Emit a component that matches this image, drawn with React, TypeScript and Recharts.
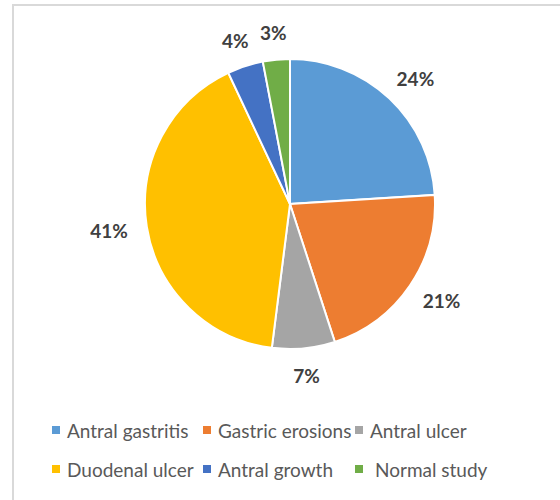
import React from 'react';
import { PieChart, Pie, Cell } from 'recharts';

const categories = ['Antral gastritis', 'Gastric erosions', 'Antral ulcer', 'Duodenal ulcer', 'Antral growth', 'Normal study'];
const values = [24, 21, 7, 41, 4, 3];
const colors = ['#5B9BD5', '#ED7D31', '#A5A5A5', '#FFC000', '#4472C4', '#70AD47'];

const data = categories.map((name, i) => ({ name, value: values[i] }));
const total = values.reduce((a, b) => a + b, 0);

const RAD = Math.PI / 180;
const FONT = "Lato, 'Open Sans', sans-serif";

const renderLabel = (props: any) => {
  const { cx, cy, midAngle, outerRadius, value } = props;
  const text = `${Math.round((value / total) * 100)}%`;
  const halfW = text.length * 6.4;
  const halfH = 8;
  const c = Math.cos(-midAngle * RAD);
  const s = Math.sin(-midAngle * RAD);
  const r = outerRadius + 19;
  const x = cx + r * c + c * halfW;
  const y = cy + r * s + s * halfH;
  return (
    <text x={x} y={y} fill="#404040" fontFamily={FONT} fontWeight={700} fontSize={19} textAnchor="middle" dominantBaseline="central">
      {text}
    </text>
  );
};

const LegendBlock = () => (
  <div style={{ position: 'absolute', left: 52, top: 419, display: 'grid', gridTemplateColumns: '151px 152px 160px', rowGap: 17, fontFamily: FONT, fontSize: 19, color: '#595959' }}>
    {data.map((d, i) => (
      <div key={d.name} style={{ display: 'flex', alignItems: 'center', whiteSpace: 'nowrap', height: 22 }}>
        <span style={{ display: 'inline-block', width: 8, height: 8, background: colors[i], marginRight: i === 5 ? 12 : 7 }} />
        <span>{d.name}</span>
      </div>
    ))}
  </div>
);

export default function App() {
  return (
    <div style={{ position: 'absolute', left: 0, top: 0, width: 560, height: 500, overflow: 'hidden', background: '#fff' }}>
      <div style={{ position: 'absolute', left: 12, top: 4, width: 700, height: 700, borderTop: '2px solid #d9d9d9', borderLeft: '2px solid #d9d9d9' }} />
      <div style={{ position: 'absolute', left: 0, top: 0 }}>
        <PieChart width={560} height={410} margin={{ top: 0, right: 0, bottom: 0, left: 0 }}>
          <Pie
            data={data}
            dataKey="value"
            nameKey="name"
            cx={290}
            cy={204}
            outerRadius={145}
            startAngle={90}
            endAngle={-270}
            stroke="#ffffff"
            strokeWidth={2}
            label={renderLabel}
            labelLine={false}
            isAnimationActive={false}
          >
            {data.map((d, i) => (
              <Cell key={d.name} fill={colors[i]} />
            ))}
          </Pie>
        </PieChart>
      </div>
      <LegendBlock />
    </div>
  );
}
